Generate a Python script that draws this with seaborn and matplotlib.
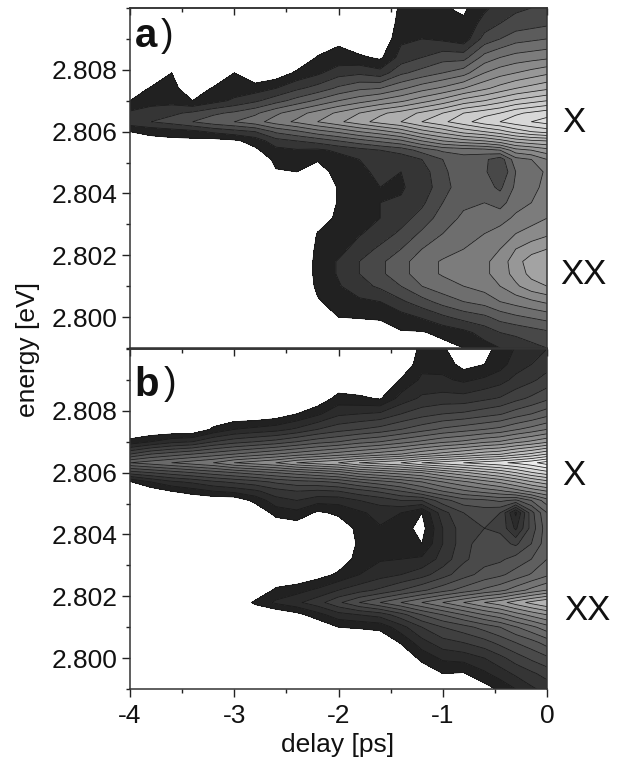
import numpy as np
import matplotlib
matplotlib.use("Agg")
import matplotlib.pyplot as plt
from matplotlib.ticker import MultipleLocator, FormatStrFormatter
import seaborn as sns

delays = [-4.0, -3.8, -3.6, -3.4, -3.2, -3.0, -2.8, -2.6, -2.4, -2.2, -2.0,
          -1.8, -1.6, -1.4, -1.2, -1.0, -0.8, -0.6, -0.45, -0.3, -0.15, 0.0]
energies = [2.7990, 2.7995, 2.8000, 2.8005, 2.8010, 2.8014, 2.8018, 2.8022, 2.8027,
            2.8032, 2.8037, 2.8042, 2.8047, 2.8051, 2.8054, 2.8057, 2.8060, 2.80632,
            2.8066, 2.8070, 2.8074, 2.8079, 2.8084, 2.8090, 2.8095, 2.8100]

# measured signal, one list per delay, lowest energy first (contour level units)
measured = [
    [0,0,0,0,0,0,0,0,0,0,0,0,0,0,0,0,1.0,2.6,2.2,1.0,0.3,0,0,0,0,0],
    [0,0,0,0,0,0,0,0,0,0,0,0,0,0,0,0.6,1.3,3.0,2.6,1.5,1.1,0,0,0,0,0],
    [0,0,0,0,0,0,0,0,0,0,0,0,0,0,0,0.7,1.5,3.4,2.8,1.6,1.3,1.0,0,0,0,0],
    [0,0,0,0,0,0,0,0,0,0,0,0,0,0,0,0.7,1.7,4.0,3.2,1.0,0.4,0,0,0,0,0],
    [0,0,0,0,0,0,0,0,0,0,0,0,0,0,0,0.6,2.2,4.6,3.8,1.6,1.1,0,0,0,0,0],
    [0,0,0,0,0,0,0,0,0,0,0,0,0,0,0,0.8,2.6,5.0,4.2,2.2,1.4,1.0,0,0,0,0],
    [0,0,0,0,0,0,0,0,0,0,0,0,0,0,0.8,1.4,3.0,5.6,4.8,2.8,1.5,0,0,0,0,0],
    [0,0,0,0,0,0,0,0,0,0,0,0,0.9,1.3,1.7,2.6,4.2,6.5,5.8,3.6,2.0,0.3,0,0,0,0],
    [0,0,0,0,0,0,0,0,0,0,0,0,1.0,1.5,1.9,3.0,4.8,7.2,6.6,4.4,2.8,1.2,0,0,0,0],
    [0,0,0,0.9,1.2,1.3,1.3,1.2,1.05,0.5,0,0,0.5,1.1,1.8,3.4,5.6,8.0,7.4,5.2,3.4,1.8,1.1,0,0,0],
    [0,0,1.0,1.4,1.9,2.1,2.1,1.6,1.4,1.2,1.1,1.1,1.4,1.6,2.2,4.0,6.2,8.8,8.2,6.0,4.2,2.6,1.3,0.8,0,0],
    [0,0,1.1,1.8,2.6,3.0,3.0,2.5,1.9,1.5,1.5,1.6,1.9,2.0,2.6,4.6,7.0,9.6,9.0,6.6,4.8,2.8,1.2,0,0,0],
    [0,0.6,1.1,2.0,3.2,3.8,3.8,3.2,2.5,2.0,2.0,2.0,2.1,2.3,3.0,5.2,7.6,10.4,9.8,7.2,5.0,2.4,0.8,0,0,0],
    [0,0.9,1.6,2.8,4.0,4.6,4.6,4.0,3.2,2.6,2.1,1.9,2.0,2.4,3.4,5.8,8.4,11.0,10.4,7.8,5.8,3.8,2.4,1.8,1.4,1.2],
    [0,0.9,2.1,3.6,5.0,5.6,5.6,5.0,4.2,3.4,2.8,2.4,2.5,3.0,4.4,7.0,9.6,12.0,11.2,8.6,6.6,4.4,3.0,2.0,1.6,1.3],
    [0.6,1.3,2.8,4.4,5.6,6.1,6.1,5.6,5.0,4.5,4.0,3.6,3.8,4.0,5.2,8.0,10.4,12.8,12.0,9.4,7.2,5.0,3.6,1.8,1.2,1.1],
    [1.0,1.7,3.4,5.0,6.0,6.4,6.4,6.0,5.6,5.2,4.8,4.6,4.6,4.6,5.4,8.6,11.4,13.6,13.0,10.4,8.0,5.6,3.6,1.4,1.2,0.8],
    [1.6,2.4,3.8,5.4,6.4,6.8,6.8,6.4,6.0,5.5,5.0,4.4,4.2,4.2,5.6,9.0,12.0,14.6,13.6,11.0,8.8,7.0,5.4,3.4,2.4,1.8],
    [2.0,3.0,4.4,6.0,7.0,7.4,7.4,7.0,6.4,5.6,4.6,3.8,3.0,3.4,6.0,9.6,12.6,15.0,14.0,11.6,9.4,7.6,6.0,4.0,3.0,2.4],
    [2.4,3.2,4.8,6.4,7.8,8.4,8.6,8.0,7.0,6.2,5.6,5.2,5.0,5.6,7.6,10.4,13.4,15.6,14.8,12.2,10.0,8.0,6.4,4.6,3.4,2.8],
    [2.7,3.5,5.1,6.8,8.6,9.3,9.5,8.6,7.4,6.6,6.0,5.6,5.4,6.0,8.0,10.8,14.0,16.0,15.2,12.6,10.4,8.4,6.6,4.8,3.6,3.0],
    [3.0,3.8,5.4,7.2,9.0,9.8,10.0,9.0,7.8,7.0,6.6,6.4,6.2,7.0,8.6,11.0,14.4,16.4,15.6,13.0,10.8,8.8,6.8,5.0,3.8,3.2],
]

# simulated signal, same layout
simulated = [
    [0,0,0,0,0,0,0,0,0,0,0,0,0,0,0,0.9,4.5,8.0,5.0,1.3,0,0,0,0,0,0],
    [0,0,0,0,0,0,0,0,0,0,0,0,0,0,0.3,2.0,5.0,8.5,6.0,2.0,0,0,0,0,0,0],
    [0,0,0,0,0,0,0,0,0,0,0,0,0,0,1.0,2.8,5.5,9.0,6.5,2.7,0,0,0,0,0,0],
    [0,0,0,0,0,0,0,0,0,0,0,0,0,0,1.5,3.2,6.0,9.5,7.0,3.0,0,0,0,0,0,0],
    [0,0,0,0,0,0,0,0,0,0,0,0,0,0.2,2.0,3.8,6.5,10.0,7.5,4.0,1.2,0,0,0,0,0],
    [0,0,0,0,0,0,0,0,0,0,0,0,0,0.2,2.3,4.2,7.0,11.0,8.0,4.6,2.0,0,0,0,0,0],
    [0,0,0,0,0,0,1.2,0,0,0,0,0,0,1.3,2.8,4.6,7.5,11.5,8.5,5.0,2.3,0,0,0,0,0],
    [0,0,0,0,0,0,2.2,1.2,0,0,0,0,1.4,2.6,3.6,5.2,8.0,12.0,9.0,5.4,2.6,0.3,0,0,0,0],
    [0,0,0,0,0,0.6,2.8,1.6,0,0,0,0.3,1.7,3.0,4.0,5.6,8.5,13.0,9.5,6.0,3.2,1.0,0,0,0,0],
    [0,0,0,0,0,1.6,3.6,2.2,0.5,0,0,0,0.8,2.4,3.8,5.8,9.0,13.5,10.0,6.6,4.0,1.8,0.2,0,0,0],
    [0,0,0,0,1.0,2.6,4.8,3.0,1.2,0.3,0,0.3,1.2,2.4,4.0,6.2,9.5,14.0,10.5,7.0,4.6,2.8,1.4,0,0,0],
    [0,0,0,0,1.1,3.0,6.0,3.6,2.0,1.4,1.2,1.3,1.8,3.0,4.6,7.0,10.5,15.0,11.0,7.6,5.0,3.0,1.2,0,0,0],
    [0,0,0,0,1.3,3.4,7.0,4.2,2.6,1.9,1.7,1.9,2.4,3.4,5.2,7.6,11.0,15.5,11.5,8.0,5.4,3.2,0.9,0,0,0],
    [0,0,0,1.1,2.6,4.6,8.0,5.0,3.0,2.0,1.6,1.5,2.0,4.0,6.0,8.2,11.5,16.0,12.0,8.6,6.0,4.0,2.4,1.1,0,0],
    [0,0.2,1.3,2.6,4.0,6.0,9.0,5.8,3.6,2.2,1.0,0.6,1.0,4.0,7.0,9.0,12.0,17.0,12.8,9.2,6.6,4.6,3.2,2.2,1.7,1.3],
    [0,1.0,2.2,3.6,5.0,7.0,10.0,6.6,4.6,3.4,3.0,3.0,3.6,5.6,8.0,10.0,13.0,17.5,13.4,9.8,7.2,5.0,3.4,2.2,1.6,1.2],
    [0,0.9,2.4,4.0,5.6,8.0,11.0,7.4,5.6,4.8,4.6,4.6,5.0,6.6,8.8,10.8,13.8,18.0,14.0,10.2,7.6,5.2,3.4,1.8,0.6,0],
    [0.5,1.8,3.0,4.6,6.4,9.0,12.0,8.2,6.4,5.6,5.6,5.0,5.4,6.8,9.4,11.6,14.6,18.5,14.6,10.8,8.0,5.6,3.8,2.2,1.0,0.7],
    [1.2,2.5,3.7,5.3,7.0,9.6,12.6,8.7,6.8,5.8,5.4,4.8,5.0,7.2,9.8,12.2,15.2,18.8,14.9,11.1,8.3,5.9,4.1,2.6,1.6,1.3],
    [2.0,3.2,4.5,6.0,7.9,10.5,13.5,9.5,7.4,6.4,4.8,2.8,1.8,6.8,10.5,13.0,16.0,19.2,15.6,11.7,8.9,6.5,4.7,3.3,2.5,2.1],
    [2.8,3.8,5.2,6.6,8.7,11.3,14.3,10.3,8.1,7.0,6.0,5.4,5.6,8.0,11.3,13.9,16.9,19.7,16.2,12.2,9.4,7.0,5.2,3.8,3.0,2.6],
    [3.4,4.4,5.8,7.4,9.6,12.0,15.0,11.0,8.8,8.0,7.6,7.6,8.0,9.6,12.0,14.6,17.6,20.5,17.0,12.8,10.0,7.6,5.8,4.4,3.6,3.0],
]

levels_a = list(range(1, 17))
levels_b = list(range(1, 21))
greys_a = ["#212121", "#6b6b6b", "#9e9e9e", "#c7c7c7", "#dedede"]
greys_b = ["#212121", "#525252", "#848484", "#c4c4c4", "#f6f6f6"]
y_ticks = [2.800, 2.802, 2.804, 2.806, 2.808]
x_ticks = [-4, -3, -2, -1, 0]

W, H = 620, 762
sns.set_theme(style="ticks")
plt.rcParams["font.family"] = ["Liberation Sans", "DejaVu Sans"]
plt.rcParams["axes.unicode_minus"] = False

fig = plt.figure(figsize=(W / 100, H / 100), dpi=100)
ax_a = fig.add_axes([130 / W, 1 - 348 / H, 417 / W, 340 / H])
ax_b = fig.add_axes([130 / W, 1 - 689 / H, 417 / W, 340 / H])


def draw_panel(ax, values, levels, greys):
    z = np.array(values).T
    cols = sns.blend_palette(greys, n_colors=len(levels))
    ax.contourf(delays, energies, z, levels=levels, colors=cols, extend="max")
    ax.contour(delays, energies, z, levels=levels, colors="#1a1a1a", linewidths=0.55)
    ax.set_xlim(-4, 0)
    ax.set_ylim(2.799, 2.810)
    ax.set_yticks(y_ticks)
    ax.set_xticks(x_ticks)
    ax.yaxis.set_major_formatter(FormatStrFormatter("%.3f"))
    ax.yaxis.set_minor_locator(MultipleLocator(0.001))
    ax.xaxis.set_minor_locator(MultipleLocator(0.5))
    ax.tick_params(axis="y", which="major", length=6, width=1, labelsize=19, pad=3, color="#222222", labelcolor="#111111")
    ax.tick_params(axis="y", which="minor", length=3, width=1, color="#222222")
    ax.tick_params(axis="x", which="both", bottom=False, labelbottom=False)
    # inward ticks along the top edge
    top = ax.secondary_xaxis("top")
    top.set_xticks(x_ticks)
    top.xaxis.set_minor_locator(MultipleLocator(0.5))
    top.tick_params(axis="x", which="major", direction="in", length=5, width=1, labeltop=False, color="#222222")
    top.tick_params(axis="x", which="minor", direction="in", length=3, width=1, color="#222222")
    for s in list(ax.spines.values()) + [top.spines["top"]]:
        s.set_linewidth(1.1)
        s.set_color("#333333")


draw_panel(ax_a, measured, levels_a, greys_a)
draw_panel(ax_b, simulated, levels_b, greys_b)

ax_b.tick_params(axis="x", which="major", bottom=True, labelbottom=True, length=6, width=1, labelsize=19, pad=5, color="#222222", labelcolor="#111111")
ax_b.tick_params(axis="x", which="minor", bottom=True, length=3, width=1, color="#222222")


def put(x, y, s, **kw):
    fig.text(x / W, 1 - y / H, s, ha="center", va="center", color="#111111", **kw)


put(28, 350, "energy [eV]", fontsize=19, rotation=90)
put(338, 745, "delay [ps]", fontsize=19)
put(574, 122, "X", fontsize=25)
put(583, 275, "XX", fontsize=25)
put(574, 475, "X", fontsize=25)
put(587, 611, "XX", fontsize=25)
put(146, 36, "a", fontsize=29, fontweight="bold")
put(167, 36, ")", fontsize=27)
put(147, 385, "b", fontsize=29, fontweight="bold")
put(170, 384, ")", fontsize=27)

fig.savefig("out.png", dpi=100)
